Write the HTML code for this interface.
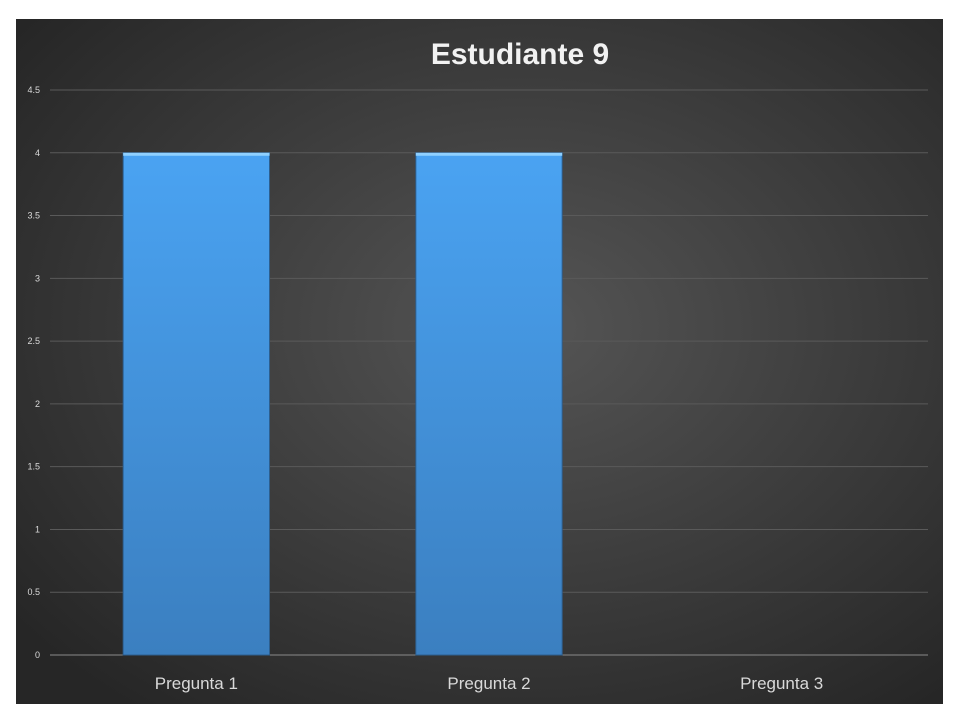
<!DOCTYPE html>
<html><head><meta charset="utf-8"><style>
html,body{margin:0;padding:0;background:#fff;width:960px;height:720px;overflow:hidden}
</style></head><body>
<svg width="960" height="720" xmlns="http://www.w3.org/2000/svg">
<defs>
<radialGradient id="bg" cx="0.55" cy="0.45" r="0.7">
<stop offset="0" stop-color="#555"/><stop offset="1" stop-color="#262626"/>
</radialGradient>
<linearGradient id="bar" x1="0" y1="0" x2="0" y2="1">
<stop offset="0" stop-color="#4aa3f2"/><stop offset="1" stop-color="#3b7fc0"/>
</linearGradient>
</defs>
<rect x="16" y="19" width="927" height="685" fill="url(#bg)"/>
<text x="520" y="64" text-anchor="middle" font-family="'Liberation Sans',sans-serif" font-weight="bold" font-size="30" fill="#f2f2f2">Estudiante 9</text>
<g id="grid"></g><g id="bars"></g><g id="labels"></g>
</svg>
<script>
const categories=["Pregunta 1","Pregunta 2","Pregunta 3"];
const values=[4,4,0];
const yTicks=[0,0.5,1,1.5,2,2.5,3,3.5,4,4.5];
const ns="http://www.w3.org/2000/svg";
const x0=50,x1=928,y0=655,yTop=90,yMax=4.5;
function y(v){return y0-(v/yMax)*(y0-yTop);}
const band=(x1-x0)/categories.length;
function bx(i){return x0+band*i+band/2;}
const grid=document.getElementById('grid'),bars=document.getElementById('bars'),labels=document.getElementById('labels');
function mk(tag,attrs,parent){const e=document.createElementNS(ns,tag);for(const k in attrs)e.setAttribute(k,attrs[k]);parent.appendChild(e);return e;}
yTicks.forEach(t=>{
 const l=mk('line',{x1:x0,x2:x1,y1:y(t),y2:y(t),stroke:t===0?'#8a8a8a':'#5a5a5a','stroke-width':1},grid);
 
 
 const tx=mk('text',{x:40,y:y(t)+3,'text-anchor':'end','font-family':"'Liberation Sans',sans-serif",'font-size':9,fill:'#d9d9d9'},labels);
 tx.textContent=String(t);
 
 
});
const bw=band*0.5;
categories.forEach((c,i)=>{
 const v=values[i];
 if(v>0){
  const r=mk('rect',{x:bx(i)-bw/2,y:y(v),width:bw,height:y(0)-y(v),fill:'url(#bar)',stroke:'#2d5f8f','stroke-width':1},bars);
  
  
  const h=mk('rect',{x:bx(i)-bw/2,y:y(v),width:bw,height:3,fill:'#8fd0ff'},bars);
  
  
 }
 const tx=mk('text',{x:bx(i),y:689,'text-anchor':'middle','font-family':"'Liberation Sans',sans-serif",'font-size':17,fill:'#d9d9d9'},labels);
 tx.textContent=c;
 
 
});
</script>
</body></html>
